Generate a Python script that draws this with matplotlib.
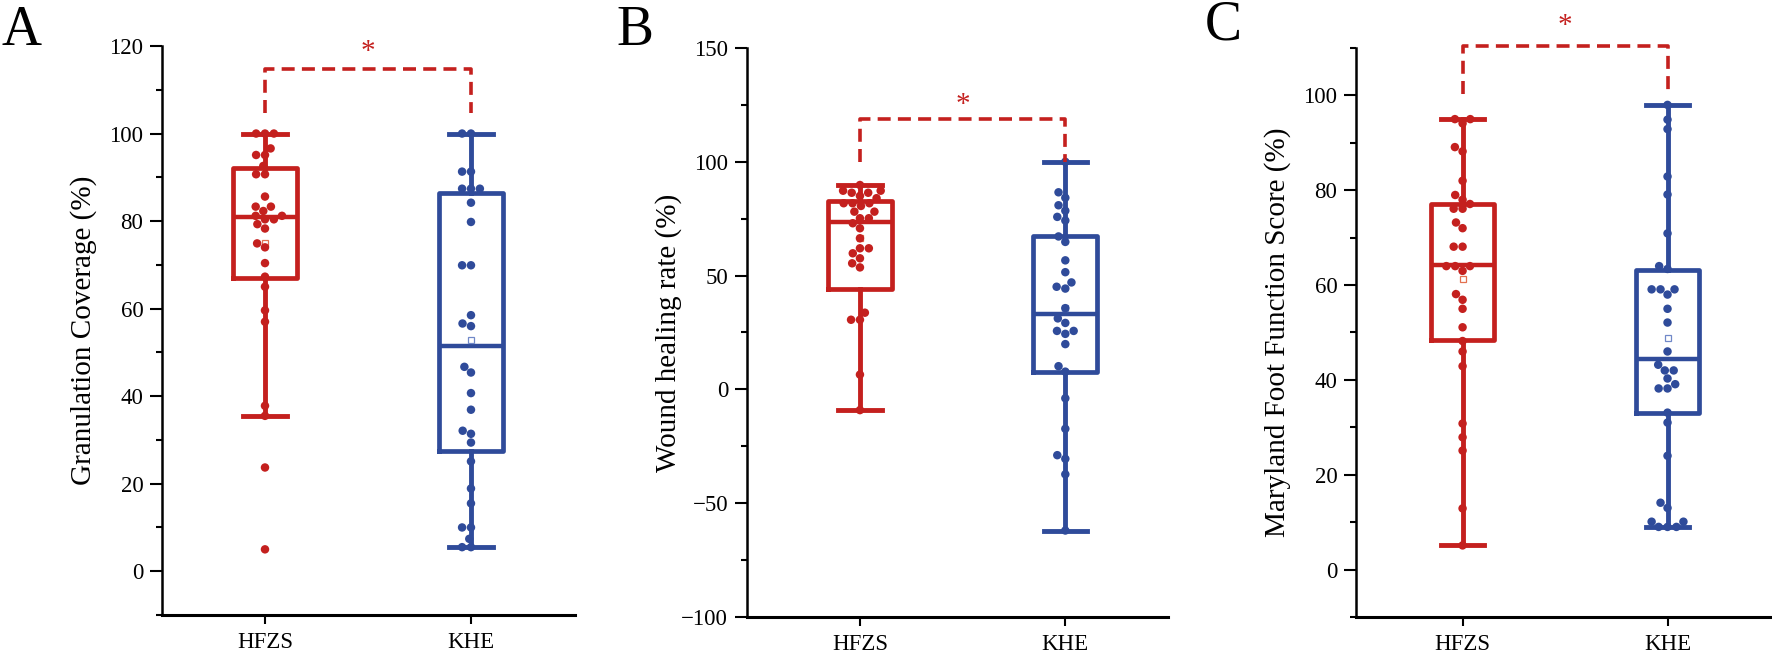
import numpy as np
import pandas as pd
import matplotlib
matplotlib.use("Agg")
import matplotlib.pyplot as plt
import seaborn as sns

plt.rcParams['font.family'] = ['Liberation Serif', 'DejaVu Serif']

groups = ['HFZS', 'KHE']
red = '#C4201E'
blue = '#2F4B9A'
mean_red = '#E3704F'
mean_blue = '#7088C8'

# A: granulation coverage
a_hfzs = [100, 100, 100, 96.6, 95.1, 95.1, 92.6, 90.7, 90.7, 85.6, 83.3, 83.3,
          82.3, 81.2, 81.2, 80.4, 80.4, 79.3, 78.3, 74.9, 74.0, 70.4, 67.3, 65.0,
          59.6, 57.0, 37.8, 35.5, 23.7, 5.0]
a_khe = [100, 100, 91.3, 91.3, 87.4, 87.4, 87.4, 84.2, 79.8, 69.9, 69.9, 58.5,
         56.6, 56.0, 46.7, 45.4, 40.7, 36.9, 32.1, 31.4, 29.4, 25.1, 18.9, 15.5,
         10.0, 10.0, 7.4, 5.5, 5.5]
# box stats: q1, median, q3, whisker low, whisker high, mean
a_stats = [(67, 81, 92.2, 35.5, 100, 75.0), (27.5, 51.4, 86.5, 5.5, 100, 52.9)]

# B: wound healing rate
b_hfzs = [89.8, 87.3, 87.3, 86.4, 86.4, 85.0, 84.0, 81.8, 81.8, 81.8, 80.6, 78.1,
          78.1, 75.2, 75.2, 73.0, 70.8, 66.4, 62.0, 62.0, 59.8, 57.6, 55.4, 53.6,
          33.7, 30.6, 30.6, 6.5, -9.1]
b_khe = [100, 86.6, 84.2, 80.9, 78.5, 75.8, 74.2, 67.2, 64.8, 56.7, 51.5, 47.0,
         45.1, 44.3, 35.7, 31.2, 29.2, 25.7, 25.7, 24.4, 19.9, 10.2, 7.8, -3.9,
         -17.3, -28.9, -30.5, -37.3, -62.0]
b_stats = [(44.0, 73.5, 82.8, -9.1, 89.8, 66.4), (7.8, 33.3, 67.2, -62.0, 100, 35.7)]

# C: Maryland foot function score
c_hfzs = [95, 95, 94.1, 89.1, 88.2, 82, 79, 78, 77.1, 76.1, 76.1, 73.2, 72, 68.1,
          68.1, 64, 64, 64, 63, 58.1, 56.9, 55, 51.1, 48.2, 46, 42.9, 30.8, 27.9,
          25.1, 12.9, 5.1]
c_khe = [98, 94.9, 92.9, 82.9, 79.1, 70.9, 64, 63.4, 59.1, 59.1, 59.1, 58, 55,
         52.1, 46, 43.2, 42, 42, 40.3, 39.1, 38.2, 38.2, 33.1, 31, 24, 14.1, 13,
         10.1, 10.1, 9, 9, 9]
c_stats = [(48.4, 64.3, 77.0, 5.1, 95, 61.2), (33.1, 44.4, 63.1, 9.0, 98, 48.8)]

panels = [
    ('A', 'Granulation Coverage (%)', a_hfzs, a_khe, a_stats),
    ('B', 'Wound healing rate (%)', b_hfzs, b_khe, b_stats),
    ('C', 'Maryland Foot Function Score (%)', c_hfzs, c_khe, c_stats),
]
ylims = [(-10, 120), (-100, 150), (-10, 110)]
major = [20, 50, 20]
# significance bracket: bottom of legs, top line, star height
brackets = [(104.7, 114.8, 118.6), (100, 118.9, 125), (100.3, 110.4, 114.6)]

W, H = 1772, 658
fig = plt.figure(figsize=(W / 100, H / 100), dpi=100)

# axes rectangles in pixels: left, right, top, bottom and x limits
rects = [(162, 575, 46, 615, (-0.5, 1.505)),
         (747, 1168, 48, 617, (-0.55, 1.5)),
         (1356, 1770, 48, 617, (-0.52, 1.5))]
letter_xy = [(22, 31), (635, 31), (1223, 25)]

for i, (letter, ylabel, hf, kh, stats) in enumerate(panels):
    l, r, t, b, xl = rects[i]
    ax = fig.add_axes([l / W, 1 - b / H, (r - l) / W, (b - t) / H])

    df = pd.DataFrame({'group': ['HFZS'] * len(hf) + ['KHE'] * len(kh),
                       'value': hf + kh})
    sns.swarmplot(data=df, x='group', y='value', hue='group', order=groups,
                  hue_order=groups, palette=[red, blue], size=6.1, linewidth=0,
                  legend=False, ax=ax, zorder=3)

    for j, (q1, med, q3, lo, hi, mn) in enumerate(stats):
        col = [red, blue][j]
        mcol = [mean_red, mean_blue][j]
        st = [dict(q1=q1, med=med, q3=q3, whislo=lo, whishi=hi, mean=mn, fliers=[])]
        ax.bxp(st, positions=[j], widths=0.31, capwidths=0.21, showmeans=True,
               showfliers=False, manage_ticks=False,
               boxprops=dict(color=col, linewidth=3.4),
               whiskerprops=dict(color=col, linewidth=3.5),
               capprops=dict(color=col, linewidth=3.5),
               medianprops=dict(color=col, linewidth=3.2),
               meanprops=dict(marker='s', markerfacecolor='white',
                              markeredgecolor=mcol, markersize=3.8,
                              markeredgewidth=0.9, zorder=2.5))

    lo, hi, sy = brackets[i]
    ax.plot([0, 0, 1, 1], [lo, hi, hi, lo], color=red, lw=2.6,
            linestyle=(0, (3.6, 2.0)), clip_on=False, zorder=4)
    ax.text(0.5, sy, '*', color=red, fontsize=21, ha='center', va='center',
            clip_on=False)

    ax.set_xlim(*xl)
    ax.set_ylim(*ylims[i])
    ax.set_yticks(np.arange(ylims[i][0] if i == 1 else 0, ylims[i][1] + 1, major[i]))
    ax.set_yticks(np.arange(ylims[i][0], ylims[i][1] + 1, major[i] / 2), minor=True)
    ax.set_xticks([0, 1])
    ax.set_xticklabels(groups)
    ax.set_xlabel('')
    ax.set_ylabel(ylabel, fontsize=21, va='center')
    ax.yaxis.set_label_coords(-78 / (r - l), 0.5)

    for s in ['top', 'right']:
        ax.spines[s].set_visible(False)
    ax.spines['left'].set_linewidth(1.8)
    ax.spines['bottom'].set_linewidth(2.2)
    ax.tick_params(axis='y', which='major', length=8.5, width=1.5, pad=5,
                   labelsize=16.5, direction='out')
    ax.tick_params(axis='y', which='minor', length=4.5, width=1.5)
    ax.tick_params(axis='x', length=6.5, width=1.5, pad=6, labelsize=16.5)
    ax.patch.set_visible(False)

    fig.text(letter_xy[i][0] / W, 1 - letter_xy[i][1] / H, letter, fontsize=40,
             ha='center', va='center')

fig.savefig('out.png', dpi=100)
